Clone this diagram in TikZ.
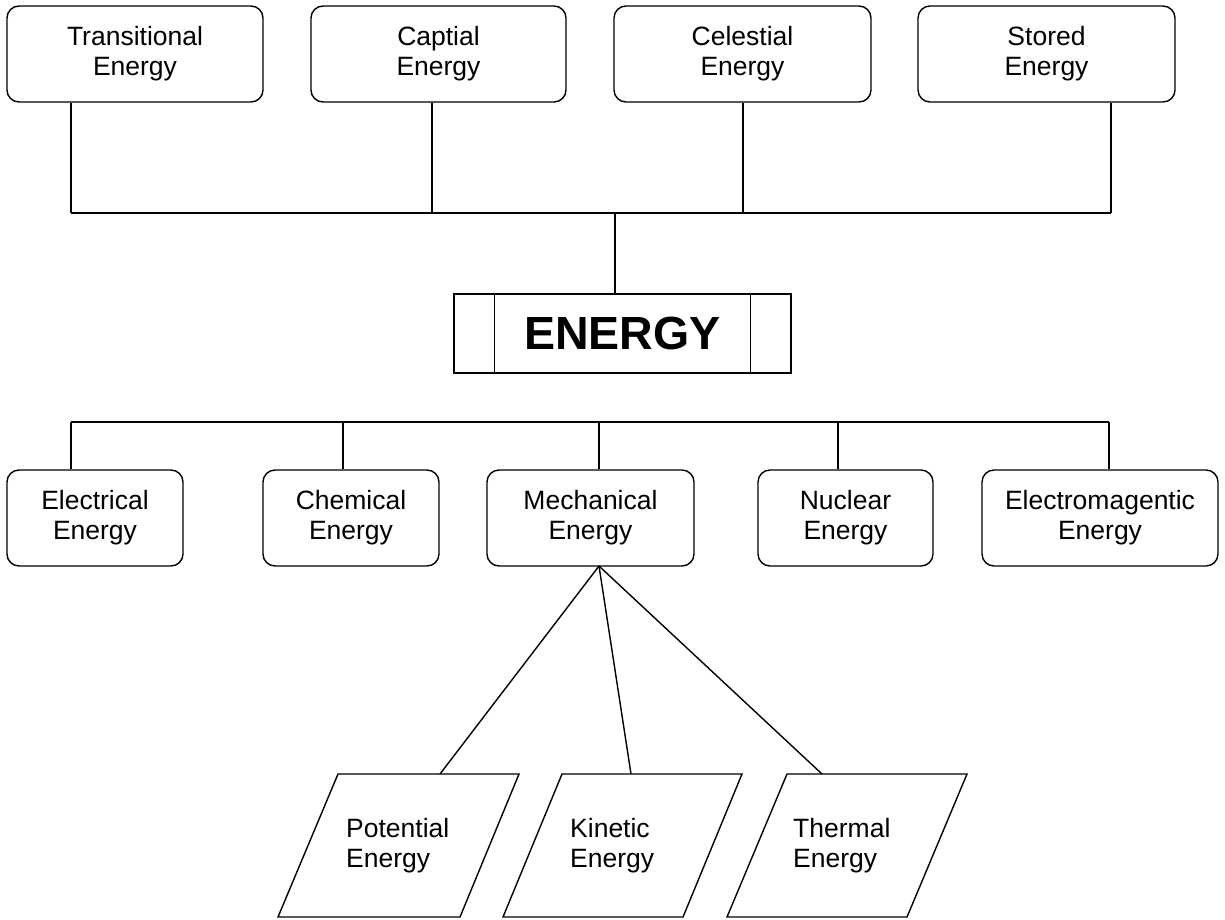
\documentclass[tikz,border=0pt]{standalone}
\usepackage{fontspec}
\setmainfont{Liberation Sans}
\begin{document}
\begin{tikzpicture}[x=1pt,y=-1pt,
  ln/.style={line width=1.4pt, black},
  rbox/.style={draw, ln, rounded corners=12pt, align=center, inner sep=0pt,
    minimum height=96pt, font=\fontsize{26.5}{30}\selectfont},
  ptext/.style={align=left, inner sep=0pt, anchor=west, font=\fontsize{26.5}{30}\selectfont},
  ebox/.style={draw, ln, inner sep=0pt, minimum width=337pt, minimum height=79pt,
    font=\bfseries\fontsize{46.5}{50}\selectfont}
]
\useasboundingbox (0,0) rectangle (1225,919);

% top boxes
\node[rbox, minimum width=256pt] (t1) at (135,54) {Transitional\\Energy};
\node[rbox, minimum width=255pt] (t2) at (438.5,54) {Captial\\Energy};
\node[rbox, minimum width=257pt] (t3) at (742.5,54) {Celestial\\Energy};
\node[rbox, minimum width=257pt] (t4) at (1046.5,54) {Stored\\Energy};

% energy box
\node[ebox] (en) at (622.5,333.5) {ENERGY};
\draw[ln] ([xshift=41pt]en.north west) -- ([xshift=41pt]en.south west);
\draw[ln] ([xshift=-41pt]en.north east) -- ([xshift=-41pt]en.south east);

% middle boxes
\node[rbox, minimum width=176pt] (m1) at (95,518) {Electrical\\Energy};
\node[rbox, minimum width=176pt] (m2) at (351,518) {Chemical\\Energy};
\node[rbox, minimum width=207pt] (m3) at (590.5,518) {Mechanical\\Energy};
\node[rbox, minimum width=175pt] (m4) at (845.5,518) {Nuclear\\Energy};
\node[rbox, minimum width=236pt] (m5) at (1100,518) {Electromagentic\\Energy};

% top bus
\coordinate (c1) at (71,213);
\coordinate (c2) at (432,213);
\coordinate (c3) at (743,213);
\coordinate (c4) at (1111,213);
\coordinate (c5) at (615,213);
\draw[ln] (t1.south -| c1) -- (c1);
\draw[ln] (t2.south -| c2) -- (c2);
\draw[ln] (t3.south -| c3) -- (c3);
\draw[ln] (t4.south -| c4) -- (c4);
\draw[ln] (c1) -- (c4);
\draw[ln] (c5) -- (en.north -| c5);

% lower bus
\coordinate (d1) at (71,422);
\coordinate (d2) at (343,422);
\coordinate (d3) at (599,422);
\coordinate (d4) at (838,422);
\coordinate (d5) at (1109,422);
\draw[ln] (d1) -- (d5);
\draw[ln] (d1) -- (m1.north -| d1);
\draw[ln] (d2) -- (m2.north -| d2);
\draw[ln] (d3) -- (m3.north -| d3);
\draw[ln] (d4) -- (m4.north -| d4);
\draw[ln] (d5) -- (m5.north -| d5);

% parallelograms
\draw[ln] (338,774) -- (519,774) -- (460,917) -- (278,917) -- cycle;
\draw[ln] (562,774) -- (742,774) -- (683,917) -- (503,917) -- cycle;
\draw[ln] (787,774) -- (967,774) -- (907,917) -- (727,917) -- cycle;
\node[ptext] (p1) at (346,846) {Potential\\Energy};
\node[ptext] (p2) at (570,846) {Kinetic\\Energy};
\node[ptext] (p3) at (793,846) {Thermal\\Energy};

% connectors from Mechanical
\coordinate (apex) at (599,566);
\coordinate (e1) at (440,774);
\coordinate (e2) at (631,774);
\coordinate (e3) at (822,774);
\draw[ln] (apex) -- (e1);
\draw[ln] (apex) -- (e2);
\draw[ln] (apex) -- (e3);
\end{tikzpicture}
\end{document}
